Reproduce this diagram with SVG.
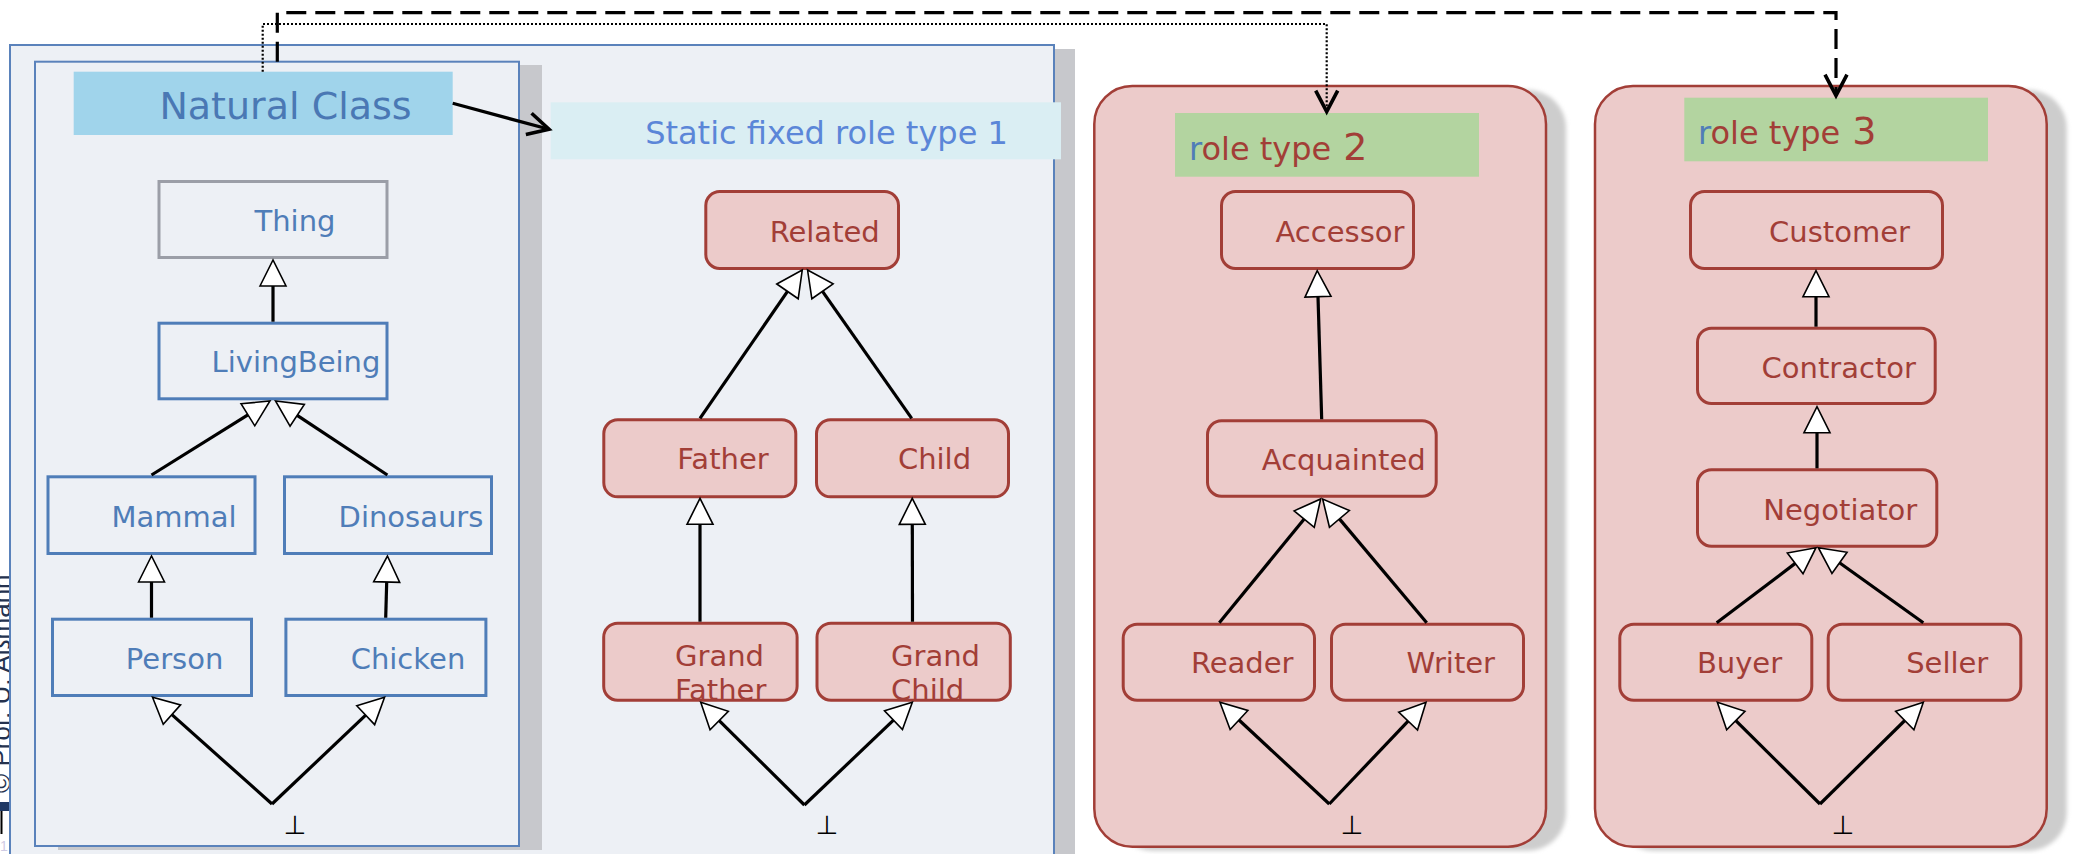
<svg xmlns="http://www.w3.org/2000/svg" width="2073" height="854" viewBox="0 0 2073 854">
  <style>
    .shadow { fill: #c7c8cc; }
    .rshadow { fill: #cdcdcd; }
    .bpanel { fill: #edf0f5; stroke: #5a82bb; stroke-width: 2; }
    .bnode { fill: none; stroke: #4f7db8; stroke-width: 3; }
    .gnode { fill: none; stroke: #9b9ea7; stroke-width: 3; }
    .rpanel { fill: #eccbca; stroke: #a23e37; stroke-width: 2.5; }
    .rnode { fill: #eccbca; stroke: #a23e37; stroke-width: 3; }
    .tag { font-family: "DejaVu Sans", Verdana, sans-serif; }
    .lbl { font-family: "DejaVu Sans", Verdana, sans-serif; font-size: 29px; text-anchor: middle; }
    .lbl-l { font-family: "DejaVu Sans", Verdana, sans-serif; font-size: 29px; }
    .blue { fill: #4f7db8; }
    .red { fill: #a23e37; }
    .bot { font-family: "DejaVu Sans", sans-serif; font-size: 26px; text-anchor: middle; fill: #000; }
    .edge { fill: none; stroke: #000; stroke-width: 3.2; marker-end: url(#gen); }
    .vline { fill: none; stroke: #000; stroke-width: 3.2; }
    .dep { fill: none; stroke: #000; marker-end: url(#open); }
  </style>
  <defs>
    <!-- hollow generalization triangle; its base sits on the line end -->
    <marker id="gen" viewBox="-2 -2 30 30" refX="0" refY="13" markerWidth="30" markerHeight="30" markerUnits="userSpaceOnUse" orient="auto">
      <path d="M0,0 L26,13 L0,26 Z" fill="#fff" stroke="#000" stroke-width="1.6" stroke-dasharray="none"/>
    </marker>
    <!-- open V arrowhead, tip on the line end -->
    <marker id="open" viewBox="-3 -3 28 28" refX="21" refY="11" markerWidth="28" markerHeight="28" markerUnits="userSpaceOnUse" orient="auto">
      <path d="M0,0 L21,11 L0,22" fill="none" stroke="#000" stroke-width="3.6" stroke-dasharray="none" stroke-linejoin="miter"/>
    </marker>
    <filter id="soft" x="-5%" y="-5%" width="110%" height="110%">
      <feGaussianBlur stdDeviation="2"/>
    </filter>
  </defs>

  <!-- margin copyright strip -->
  <g id="margin">
    <text transform="translate(9.5,793) rotate(-90)" font-family="'Liberation Sans', Arial, sans-serif" font-size="26" fill="#24324f">© Prof. U. Aßmann</text>
    <rect x="0" y="802" width="9" height="9" fill="#1f3864"/>
    <line x1="1.5" y1="811" x2="1.5" y2="834" stroke="#000" stroke-width="2"/>
    <text x="0" y="851" font-family="'Liberation Sans', sans-serif" font-size="14" fill="#cfcbe4">1</text>
  </g>

  <!-- natural type panel with its static role panel -->
  <g id="panel-static">
    <rect class="shadow" x="31" y="49" width="1044" height="810"/>
    <rect class="bpanel" x="10" y="45" width="1044" height="810"/>
  </g>
  <g id="panel-natural">
    <rect class="shadow" x="58" y="65" width="484" height="785"/>
    <rect class="bpanel" x="35" y="61.7" width="484" height="784.3"/>
  </g>
  <g id="title-natural">
    <rect x="73.7" y="71.7" width="379" height="63.3" fill="#a0d4eb"/>
    <text class="tag" x="285.5" y="118.5" font-size="38" text-anchor="middle" fill="#4a78b4">Natural Class</text>
  </g>
  <g id="title-static">
    <rect x="550.7" y="102.3" width="510.3" height="57" fill="#daeef3"/>
    <text class="tag" x="826.5" y="144" font-size="32" text-anchor="middle" fill="#5b86d8">Static fixed role type 1</text>
  </g>

  <!-- role type panels -->
  <g id="panel-role2">
    <rect class="rshadow" x="1114.3" y="90" width="451.7" height="760.7" rx="38" filter="url(#soft)"/>
    <rect class="rpanel" x="1094.3" y="86" width="451.7" height="760.7" rx="38"/>
    <rect x="1175" y="113" width="304" height="63.7" fill="#b3d4a0"/>
    <text class="tag red" x="1189" y="160" font-size="32"><tspan class="blue">r</tspan>ole type<tspan font-size="38"> 2</tspan></text>
  </g>
  <g id="panel-role3">
    <rect class="rshadow" x="1615" y="90" width="451.7" height="760.7" rx="38" filter="url(#soft)"/>
    <rect class="rpanel" x="1595" y="86" width="451.7" height="760.7" rx="38"/>
    <rect x="1684.3" y="97.7" width="303.7" height="63.6" fill="#b3d4a0"/>
    <text class="tag red" x="1698" y="144.3" font-size="32"><tspan class="blue">r</tspan>ole type<tspan font-size="38"> 3</tspan></text>
  </g>

  <!-- natural types -->
  <g id="thing"><rect class="gnode" x="159" y="181.5" width="228" height="76"/><text class="lbl blue" x="295" y="231">Thing</text></g>
  <g id="livingbeing"><rect class="bnode" x="159" y="323.2" width="228" height="75.6"/><text class="lbl blue" x="296" y="372.3">LivingBeing</text></g>
  <g id="mammal"><rect class="bnode" x="48" y="476.8" width="207" height="76.7"/><text class="lbl blue" x="174" y="526.7">Mammal</text></g>
  <g id="dinosaurs"><rect class="bnode" x="284.5" y="476.8" width="207" height="76.7"/><text class="lbl blue" x="411" y="526.7">Dinosaurs</text></g>
  <g id="person"><rect class="bnode" x="52.5" y="619.2" width="199" height="76.3"/><text class="lbl blue" x="174.6" y="669">Person</text></g>
  <g id="chicken"><rect class="bnode" x="285.9" y="619.2" width="200" height="76.3"/><text class="lbl blue" x="408" y="669">Chicken</text></g>

  <!-- static fixed roles -->
  <g id="related"><rect class="rnode" x="705.8" y="191.5" width="192.7" height="77" rx="14"/><text class="lbl red" x="824.7" y="241.7">Related</text></g>
  <g id="father"><rect class="rnode" x="603.8" y="419.8" width="192" height="77" rx="14"/><text class="lbl red" x="723" y="469.3">Father</text></g>
  <g id="child"><rect class="rnode" x="816.5" y="419.8" width="192" height="77" rx="14"/><text class="lbl red" x="934.5" y="469.3">Child</text></g>
  <g id="grandfather"><rect class="rnode" x="603.7" y="623.2" width="193.4" height="77" rx="14"/><text class="lbl-l red" x="675" y="665.7">Grand<tspan x="675" y="700">Father</tspan></text></g>
  <g id="grandchild"><rect class="rnode" x="817" y="623.2" width="193.3" height="77" rx="14"/><text class="lbl-l red" x="891" y="665.7">Grand<tspan x="891" y="700">Child</tspan></text></g>

  <!-- role type 2 -->
  <g id="accessor"><rect class="rnode" x="1221.5" y="191.5" width="192" height="77" rx="14"/><text class="lbl red" x="1340" y="242.3">Accessor</text></g>
  <g id="acquainted"><rect class="rnode" x="1207.5" y="420.8" width="228.7" height="75.4" rx="14"/><text class="lbl red" x="1343.8" y="470">Acquainted</text></g>
  <g id="reader"><rect class="rnode" x="1123.2" y="624.2" width="191.3" height="76" rx="14"/><text class="lbl red" x="1242.2" y="673.3">Reader</text></g>
  <g id="writer"><rect class="rnode" x="1331.5" y="624.2" width="192" height="76" rx="14"/><text class="lbl red" x="1450.8" y="673.3">Writer</text></g>

  <!-- role type 3 -->
  <g id="customer"><rect class="rnode" x="1690.5" y="191.5" width="252" height="77" rx="14"/><text class="lbl red" x="1839.5" y="242.3">Customer</text></g>
  <g id="contractor"><rect class="rnode" x="1697.5" y="328.2" width="237.7" height="75.3" rx="14"/><text class="lbl red" x="1838.8" y="377.7">Contractor</text></g>
  <g id="negotiator"><rect class="rnode" x="1697.5" y="469.8" width="239.3" height="76.4" rx="14"/><text class="lbl red" x="1840.3" y="520">Negotiator</text></g>
  <g id="buyer"><rect class="rnode" x="1619.8" y="624.2" width="192" height="76" rx="14"/><text class="lbl red" x="1739.5" y="673.3">Buyer</text></g>
  <g id="seller"><rect class="rnode" x="1828.2" y="624.2" width="192.6" height="76" rx="14"/><text class="lbl red" x="1947.2" y="673.3">Seller</text></g>

  <!-- bottom (empty) types -->
  <g id="bottoms">
    <text class="bot" x="295" y="834">⊥</text>
    <text class="bot" x="827" y="834">⊥</text>
    <text class="bot" x="1352" y="834">⊥</text>
    <text class="bot" x="1843" y="834">⊥</text>
  </g>

  <g id="connectors">
    <!-- natural type hierarchy -->
    <path class="edge" d="M273,321.7 L273,286"/>
    <path class="edge" d="M151.5,475 L247.9,414.8"/>
    <path class="edge" d="M387.4,475 L297.2,415.3"/>
    <path class="edge" d="M151.5,617.7 L151.5,582"/>
    <path class="edge" d="M385.7,617.7 L386.7,582"/>
    <path class="edge" d="M272,804 L171.9,714.6"/>
    <path class="edge" d="M272,804 L365.7,715.2"/>

    <!-- static role hierarchy -->
    <path class="edge" d="M700,418.3 L787.5,291.4"/>
    <path class="edge" d="M911.7,418.3 L822.5,291.3"/>
    <path class="edge" d="M700,621.7 L700,524.3"/>
    <path class="edge" d="M912.5,621.7 L912.3,524.3"/>
    <path class="edge" d="M804.4,805 L719.2,720.6"/>
    <path class="edge" d="M804.4,805 L893.5,720.2"/>

    <!-- role type 2 hierarchy -->
    <path class="edge" d="M1321.7,419.3 L1318,296.7"/>
    <path class="edge" d="M1219.3,622.7 L1304.2,519.1"/>
    <path class="edge" d="M1426.7,622.7 L1339.4,518.9"/>
    <path class="edge" d="M1329.3,804 L1239,720"/>
    <path class="edge" d="M1329.3,804 L1408.1,721.1"/>

    <!-- role type 3 hierarchy -->
    <path class="edge" d="M1816,326.7 L1816,296.7"/>
    <path class="edge" d="M1817,468.3 L1817,432.7"/>
    <path class="edge" d="M1716.7,622.7 L1795.2,563.4"/>
    <path class="edge" d="M1923.3,622.7 L1839.5,562.8"/>
    <path class="edge" d="M1820,804 L1735.8,720.6"/>
    <path class="edge" d="M1820,804 L1904.8,720.5"/>

    <!-- natural class plays static role -->
    <path class="dep" stroke-width="3.2" d="M452.7,103.3 L549,129.3"/>
    <!-- dotted link to role type 2 -->
    <path class="dep" stroke-width="2.2" stroke-dasharray="2 2" d="M262.7,71.7 V24 H1326.7 V111.7"/>
    <!-- dashed link to role type 3 -->
    <path class="dep" stroke-width="3.2" stroke-dasharray="20 9" d="M277.3,61.7 V12.7 H1836 V95.7"/>
  </g>
</svg>
